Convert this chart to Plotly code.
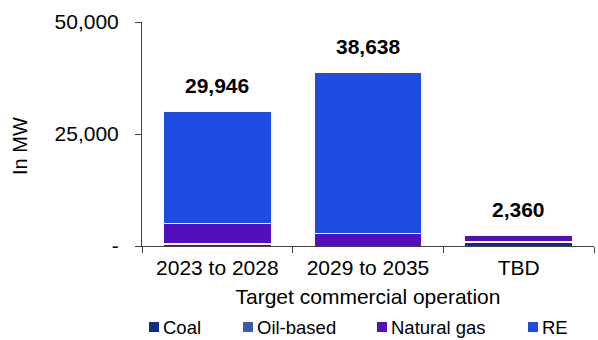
import plotly.graph_objects as go

categories = ["2023 to 2028", "2029 to 2035", "TBD"]
coal = [300, 0, 800]
oil_based = [150, 0, 200]
natural_gas = [4600, 2750, 1360]
re = [24896, 35888, 0]
totals = [29946, 38638, 2360]
total_labels = ["29,946", "38,638", "2,360"]
y_tickvals = [0, 25000, 50000]
y_ticktext = ["-", "25,000", "50,000"]
legend_names = ["Coal", "Oil-based", "Natural gas", "RE"]
legend_x_px = [149, 243, 377, 528]  # left edge of legend keys in pixels

FONT = "Liberation Sans, Arial, sans-serif"
colors = ["#0c2f85", "#3d5e9c", "#530fbc", "#1f4ce0"]
series_vals = [coal, oil_based, natural_gas, re]

W, H = 598, 340
ML, MR, MT, MB = 142, 4, 22, 94
PW, PH = W - ML - MR, H - MT - MB

fig = go.Figure()
for name, vals, col in zip(legend_names, series_vals, colors):
    fig.add_trace(go.Bar(
        x=categories, y=vals, name=name,
        marker=dict(color=col, line=dict(color="white", width=1)),
    ))

for cat, tot, lab in zip(categories, totals, total_labels):
    fig.add_annotation(
        x=cat, y=tot, text="<b>" + lab + "</b>", showarrow=False,
        yanchor="middle", yshift=26,
        font=dict(family=FONT, size=21, color="black"),
    )

# y axis title
fig.add_annotation(
    xref="paper", yref="paper", x=0, y=(H - MB - 146) / PH, xshift=-(ML - 20),
    text="In MW", textangle=-90, showarrow=False,
    xanchor="center", yanchor="middle",
    font=dict(family=FONT, size=20, color="black"),
)

# legend (keys + labels), placed along the bottom edge
LEG_Y = 327
for name, col, xp in zip(legend_names, colors, legend_x_px):
    fig.add_shape(type="rect", xref="paper", yref="paper",
                  x0=(xp - ML) / PW, x1=(xp + 10 - ML) / PW,
                  y0=(H - MB - (LEG_Y + 5)) / PH, y1=(H - MB - (LEG_Y - 5)) / PH,
                  fillcolor=col, line=dict(width=0))
    fig.add_annotation(
        xref="paper", yref="paper", x=(xp + 12 - ML) / PW, y=(H - MB - LEG_Y) / PH,
        text=name, showarrow=False, xanchor="left", yanchor="middle",
        font=dict(family=FONT, size=18.5, color="black"),
    )

fig.update_layout(
    barmode="stack",
    bargap=0.284,
    width=W, height=H,
    margin=dict(l=ML, r=MR, t=MT, b=MB),
    paper_bgcolor="white", plot_bgcolor="white",
    font=dict(family=FONT, size=21, color="black"),
    showlegend=False,
    xaxis=dict(
        showline=True, linecolor="#444", linewidth=1,
        ticks="outside", ticklen=6, tickcolor="#444",
        tickson="boundaries",
        range=[-0.5, 2.5],
        ticklabelstandoff=3,
        title=dict(text="Target commercial operation", standoff=11,
                   font=dict(family=FONT, size=21)),
        tickfont=dict(family=FONT, size=21),
    ),
    yaxis=dict(
        range=[0, 50000],
        showline=True, linecolor="#444", linewidth=1,
        ticks="outside", ticklen=6, tickcolor="#444",
        tickvals=y_tickvals, ticktext=y_ticktext,
        showgrid=False, zeroline=False,
        ticklabelstandoff=12,
        tickfont=dict(family=FONT, size=21),
    ),
)

fig.write_html("out.html")
